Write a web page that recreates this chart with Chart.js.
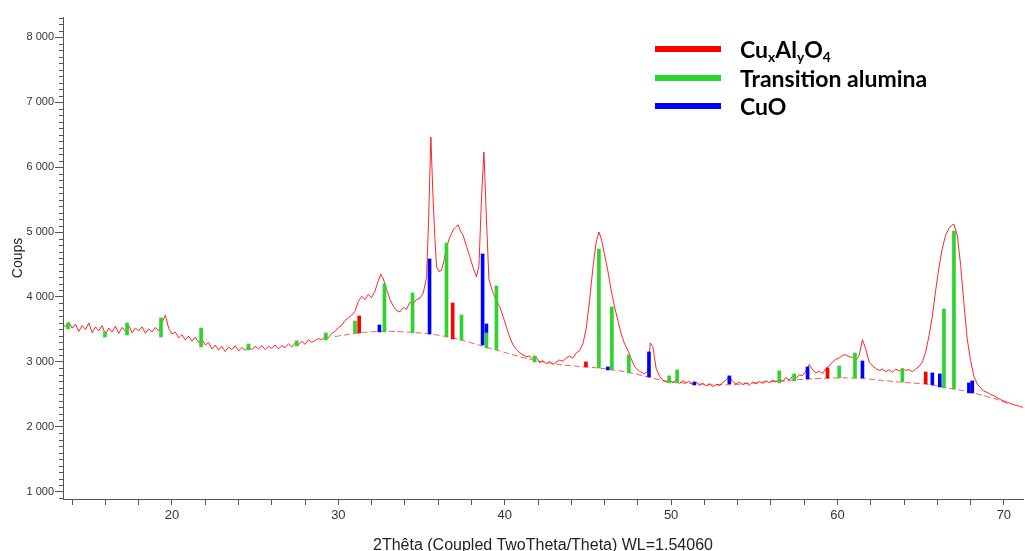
<!DOCTYPE html>
<html>
<head>
<meta charset="utf-8">
<script src="https://cdn.jsdelivr.net/npm/chart.js@4"></script>
<style>
  html, body { margin: 0; padding: 0; background: #fff; }
  #wrap { position: relative; width: 1025px; height: 551px; }
  #xrd { position: absolute; left: 0; top: 0; }
  .xtitle {
    position: absolute; left: 63px; width: 960px; top: 536px;
    text-align: center; color: #222;
    font: 16px "Liberation Sans Narrow", "Liberation Sans", Arial, sans-serif;
  }
  .legend {
    position: absolute; left: 655px; top: 35px; color: #000;
    font: bold 23px Lato, "Open Sans", sans-serif;
  }
  .legend div { height: 28.5px; display: flex; align-items: center; }
  .legend i { display: inline-block; width: 66px; height: 6px; margin-right: 19px; }
  .legend sub { font-size: 0.6em; vertical-align: -0.3em; line-height: 0; }
</style>
</head>
<body>
<div id="wrap">
  <canvas id="xrd" width="1025" height="551"></canvas>
  <div class="legend">
    <div><i style="background:#ff0000"></i><span>Cu<sub>x</sub>Al<sub>y</sub>O<sub>4</sub></span></div>
    <div><i style="background:#2ed42e"></i><span>Transition alumina</span></div>
    <div><i style="background:#0000ff"></i><span>CuO</span></div>
  </div>
  <div class="xtitle">2Thêta (Coupled TwoTheta/Theta) WL=1.54060</div>
</div>
<script>
// measured scan (2theta, counts)
const scanAngle = [
  13.4, 13.6, 13.8, 14.0, 14.2, 14.4, 14.6, 14.8, 15.0, 15.2,
  15.4, 15.6, 15.8, 16.0, 16.2, 16.4, 16.6, 16.8, 17.0, 17.2,
  17.4, 17.6, 17.8, 18.0, 18.2, 18.4, 18.6, 18.8, 19.0, 19.2,
  19.4, 19.6, 19.8, 20.0, 20.2, 20.4, 20.6, 20.8, 21.0, 21.2,
  21.4, 21.6, 21.8, 22.0, 22.2, 22.4, 22.6, 22.8, 23.0, 23.2,
  23.4, 23.6, 23.8, 24.0, 24.2, 24.4, 24.6, 24.8, 25.0, 25.2,
  25.4, 25.6, 25.8, 26.0, 26.2, 26.4, 26.6, 26.8, 27.0, 27.2,
  27.4, 27.6, 27.8, 28.0, 28.2, 28.4, 28.6, 28.8, 29.0, 29.2,
  29.4, 29.6, 29.8, 30.0, 30.2, 30.4, 30.6, 30.8, 31.0, 31.2,
  31.4, 31.6, 31.8, 32.0, 32.2, 32.4, 32.55, 32.7, 32.9, 33.1,
  33.3, 33.5, 33.7, 33.9, 34.1, 34.3, 34.5, 34.7, 34.9, 35.1,
  35.3, 35.42, 35.56, 35.68, 35.8, 35.9, 36.05, 36.2, 36.35, 36.5,
  36.7, 36.9, 37.05, 37.2, 37.35, 37.5, 37.7, 37.9, 38.1, 38.3,
  38.45, 38.6, 38.75, 38.9, 39.05, 39.3, 39.5, 39.7, 39.9, 40.1,
  40.3, 40.5, 40.7, 40.9, 41.1, 41.3, 41.5, 41.7, 41.9, 42.1,
  42.3, 42.5, 42.7, 42.9, 43.1, 43.3, 43.5, 43.7, 43.9, 44.1,
  44.3, 44.5, 44.7, 44.9, 45.1, 45.3, 45.5, 45.66, 45.8, 46.0,
  46.2, 46.4, 46.6, 46.8, 47.0, 47.2, 47.4, 47.6, 47.8, 48.0,
  48.2, 48.4, 48.6, 48.75, 48.9, 49.1, 49.3, 49.5, 49.7, 49.9,
  50.1, 50.3, 50.5, 50.7, 50.9, 51.1, 51.3, 51.5, 51.7, 51.9,
  52.1, 52.3, 52.5, 52.7, 52.9, 53.1, 53.3, 53.5, 53.7, 53.9,
  54.1, 54.3, 54.5, 54.7, 54.9, 55.1, 55.3, 55.5, 55.7, 55.9,
  56.1, 56.3, 56.5, 56.7, 56.9, 57.1, 57.3, 57.5, 57.7, 57.9,
  58.1, 58.3, 58.5, 58.7, 58.9, 59.1, 59.3, 59.5, 59.7, 59.9,
  60.1, 60.3, 60.5, 60.7, 60.9, 61.1, 61.3, 61.5, 61.7, 61.9,
  62.1, 62.3, 62.5, 62.7, 62.9, 63.1, 63.3, 63.5, 63.7, 63.9,
  64.1, 64.3, 64.5, 64.7, 64.9, 65.1, 65.3, 65.5, 65.7, 65.9,
  66.1, 66.3, 66.5, 66.7, 66.9, 67.0, 67.2, 67.4, 67.6, 67.8,
  68.0, 68.2, 68.4, 68.6, 68.8, 69.0, 69.2, 69.4, 69.6, 69.8,
  70.0, 70.2, 70.4, 70.6, 70.8, 71.0, 71.2
];
const scanCounts = [
  3600, 3540, 3610, 3520, 3580, 3470, 3560, 3500, 3600, 3450,
  3540, 3480, 3560, 3420, 3520, 3460, 3550, 3440, 3530, 3470,
  3560, 3450, 3520, 3480, 3540, 3440, 3510, 3460, 3530, 3480,
  3600, 3720, 3520, 3430, 3460, 3370, 3420, 3340, 3400, 3320,
  3380, 3300, 3350, 3260, 3300, 3200, 3260, 3180, 3240, 3160,
  3230, 3190, 3250, 3170, 3220, 3180, 3230, 3190, 3240, 3200,
  3250, 3190, 3240, 3210, 3260, 3200, 3250, 3220, 3280, 3230,
  3290, 3260, 3320, 3270, 3340, 3300, 3330, 3360, 3340, 3390,
  3370, 3440, 3470, 3530, 3560, 3640, 3680, 3720, 3780, 3930,
  4010, 3960, 4040, 3990, 4090, 4250, 4350, 4280, 4120, 3960,
  3860, 3790, 3770, 3840, 3810, 3920, 3900, 3960, 3980, 4060,
  4300, 5150, 6460, 5600, 4920, 4460, 4390, 4410, 4560, 4770,
  4920, 5030, 5070, 5110, 5010, 4950, 4780, 4620, 4450, 4310,
  4480, 5500, 6230, 5200, 4270, 4060, 3950, 3850, 3700, 3540,
  3380, 3260, 3190, 3140, 3110, 3080, 3090, 3040, 3070, 2990,
  3020, 2970, 3010, 2960, 3000, 3030, 3010, 3060, 3090, 3060,
  3140, 3170, 3280, 3520, 3950, 4450, 4850, 5000, 4900, 4650,
  4400, 4100, 3850, 3640, 3430, 3280, 3180, 3050, 2930, 2880,
  2840, 2820, 2860, 3290, 3240, 2900, 2780, 2720, 2690, 2730,
  2680, 2720, 2670, 2710, 2680, 2700, 2650, 2690, 2640, 2670,
  2630, 2660, 2620, 2650, 2640, 2680, 2720, 2780, 2700, 2660,
  2690, 2650, 2680, 2640, 2690, 2660, 2700, 2670, 2710, 2680,
  2720, 2690, 2740, 2700, 2760, 2720, 2780, 2750, 2800, 2790,
  2860, 2960, 2880, 2830, 2860, 2820, 2900, 2940, 3000, 3040,
  3060, 3100, 3110, 3080, 3070, 3020, 3100, 3340, 3200, 3000,
  2940, 2900, 2870, 2890, 2850, 2880, 2840, 2890, 2860, 2900,
  2870, 2880, 2850, 2890, 2930, 3000, 3150, 3400, 3700, 4100,
  4460, 4750, 4950, 5060, 5110, 5120, 4950, 4500, 3900, 3350,
  3020, 2780, 2660, 2600, 2550, 2530, 2500, 2480, 2450, 2420,
  2400, 2380, 2360, 2340, 2330, 2310, 2300
];

// fitted background
const bgAngle = [
  29.8, 30.5, 31.5, 32.5, 33.5, 34.5, 35.5, 36.5, 37.5, 38.5,
  39.5, 40.5, 41.5, 42.5, 43.5, 44.5, 45.5, 46.5, 47.5, 48.5,
  49.5, 50.5, 51.5, 52.5, 53.5, 54.5, 55.5, 56.5, 57.5, 58.5,
  59.5, 60.5, 61.5, 62.5, 63.5, 64.5, 65.5, 66.5, 67.5, 68.5,
  69.5, 70.4
];
const bgCounts = [
  3390, 3420, 3455, 3470, 3468, 3455, 3430, 3390, 3330, 3255,
  3185, 3110, 3040, 2990, 2955, 2930, 2910, 2878, 2835, 2775,
  2715, 2680, 2662, 2655, 2648, 2665, 2690, 2705, 2725, 2740,
  2750, 2755, 2745, 2720, 2695, 2675, 2655, 2605, 2560, 2500,
  2430, 2340
];

// reference sticks: position, bottom, top
const cuAlAngle = [31.25, 36.87, 44.88, 59.4, 65.3];
const cuAlLow = [3446, 3354, 2923, 2754, 2662];
const cuAlHigh = [3708, 3908, 3000, 2908, 2846];

const aluminaAngle = [
  13.75, 15.97, 17.3, 19.34, 21.75, 24.6, 27.5, 29.25, 31.0, 32.77,
  34.46, 36.5, 37.4, 38.9, 39.5, 41.8, 45.66, 46.44, 47.46, 49.88,
  50.36, 56.5, 57.4, 60.1, 61.05, 63.9, 66.4, 67.0
];
const aluminaLow = [
  3508, 3385, 3415, 3385, 3231, 3185, 3246, 3338, 3446, 3462,
  3446, 3385, 3338, 3215, 3185, 3000, 2908, 2877, 2831, 2677,
  2677, 2677, 2708, 2754, 2754, 2692, 2600, 2585
];
const aluminaHigh = [
  3600, 3462, 3600, 3677, 3523, 3277, 3323, 3446, 3631, 4200,
  4062, 4831, 3723, 3446, 4169, 3092, 4738, 3846, 3108, 2785,
  2877, 2862, 2815, 2938, 3138, 2892, 3815, 5015
];

const cuoAngle = [
  32.47, 35.48, 38.67, 38.9, 46.2, 48.67, 51.4, 53.5, 58.2, 61.5,
  65.7, 66.15, 67.9, 68.1
];
const cuoLow = [
  3462, 3431, 3262, 3446, 2877, 2769, 2646, 2662, 2738, 2754,
  2646, 2615, 2523, 2523
];
const cuoHigh = [
  3569, 4585, 4662, 3585, 2923, 3154, 2692, 2785, 2923, 3015,
  2831, 2815, 2677, 2708
];

const xLabels = [20, 30, 40, 50, 60, 70];
const yTicks = [1000, 2000, 3000, 4000, 5000, 6000, 7000, 8000];

function points(xs, ys) {
  return xs.map(function (x, i) {
    return { x: x, y: ys[i] };
  });
}

function sticks(xs, lo, hi) {
  return xs.map(function (x, i) {
    return { x: x, y: [lo[i], hi[i]] };
  });
}

function stickSet(label, xs, lo, hi, color, order) {
  return {
    type: "bar",
    label: label,
    data: sticks(xs, lo, hi),
    backgroundColor: color,
    barThickness: 3,
    grouped: false,
    order: order,
  };
}

// small ticks every 100 counts on the y axis
const minorTicks = {
  id: "minorTicks",
  afterDraw(chart) {
    const ctx = chart.ctx;
    const y = chart.scales.y;
    const left = chart.chartArea.left;
    ctx.save();
    ctx.strokeStyle = "#555";
    ctx.lineWidth = 1;
    ctx.beginPath();
    for (let v = 900; v <= 8300; v += 100) {
      if (v % 1000 === 0) continue;
      const py = Math.round(y.getPixelForValue(v)) + 0.5;
      ctx.moveTo(left - 4, py);
      ctx.lineTo(left, py);
    }
    ctx.stroke();
    ctx.restore();
  },
};

const tickFont = { family: "'Liberation Sans', Arial, sans-serif", size: 11 };

new Chart(document.getElementById("xrd"), {
  type: "line",
  data: {
    datasets: [
      stickSet("CuxAlyO4", cuAlAngle, cuAlLow, cuAlHigh, "#ff0000", 0),
      stickSet("Transition alumina", aluminaAngle, aluminaLow, aluminaHigh, "#2ed42e", 1),
      stickSet("CuO", cuoAngle, cuoLow, cuoHigh, "#0000ff", 2),
      {
        label: "scan",
        data: points(scanAngle, scanCounts),
        borderColor: "rgba(255,0,0,0.85)",
        borderWidth: 1,
        pointRadius: 0,
        tension: 0,
        order: 3,
      },
      {
        label: "background",
        data: points(bgAngle, bgCounts),
        borderColor: "rgba(255,40,40,0.75)",
        borderWidth: 1,
        borderDash: [6, 3],
        pointRadius: 0,
        tension: 0.3,
        order: 4,
      },
    ],
  },
  options: {
    responsive: false,
    animation: false,
    layout: { padding: { top: 17, right: 2, left: 0, bottom: 0 } },
    plugins: {
      legend: { display: false },
      tooltip: { enabled: false },
    },
    scales: {
      x: {
        type: "linear",
        min: 13.45,
        max: 71.15,
        offset: false,
        grid: { drawOnChartArea: false, offset: false, tickLength: 6, color: "#555" },
        border: { color: "#555" },
        ticks: {
          stepSize: 2,
          includeBounds: false,
          autoSkip: false,
          maxRotation: 0,
          padding: 3,
          color: "#333",
          font: { family: "'Liberation Sans Narrow', 'Liberation Sans', sans-serif", size: 13 },
          callback: function (v) {
            return xLabels.indexOf(v) >= 0 ? String(v) : "";
          },
        },
        afterFit: function (scale) {
          scale.height = 52;
        },
      },
      y: {
        min: 890,
        max: 8310,
        grid: { drawOnChartArea: false, tickLength: 8, color: "#555" },
        border: { color: "#555" },
        afterBuildTicks: function (scale) {
          scale.ticks = yTicks.map(function (v) {
            return { value: v };
          });
        },
        ticks: {
          padding: 1,
          color: "#333",
          font: tickFont,
          callback: function (v) {
            return String(v).replace(/\B(?=(\d{3})+(?!\d))/g, " ");
          },
        },
        title: {
          display: true,
          text: "Coups",
          color: "#222",
          font: { family: "'Liberation Sans', Arial, sans-serif", size: 14 },
          padding: { top: 10, bottom: 0 },
        },
        afterFit: function (scale) {
          scale.width = 63;
        },
      },
    },
  },
  plugins: [minorTicks],
});
</script>
</body>
</html>
